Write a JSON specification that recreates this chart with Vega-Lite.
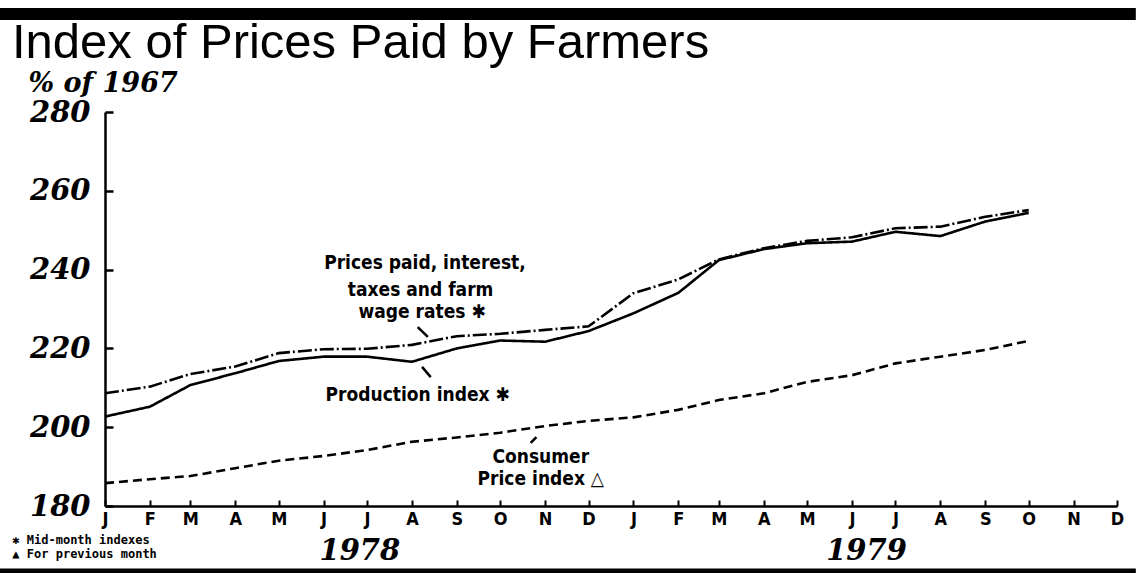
{
  "$schema": "https://vega.github.io/schema/vega-lite/v6.json",
  "width": 1012,
  "height": 394,
  "autosize": {"type": "none"},
  "padding": {"left": 105, "top": 112, "right": 19, "bottom": 67},
  "background": "white",
  "config": {"view": {"stroke": null}},
  "title": {
    "text": "Index of Prices Paid by Farmers",
    "anchor": "start",
    "frame": "group",
    "dx": -93,
    "dy": 99,
    "offset": 0,
    "baseline": "alphabetic",
    "font": "Liberation Sans",
    "fontSize": 49,
    "fontWeight": "normal",
    "color": "black"
  },
  "datasets": {
    "series": [
      {"series": "Prices paid", "date": "1978-01-01", "value": 208.6},
      {"series": "Prices paid", "date": "1978-02-01", "value": 210.3},
      {"series": "Prices paid", "date": "1978-03-01", "value": 213.5},
      {"series": "Prices paid", "date": "1978-04-01", "value": 215.4},
      {"series": "Prices paid", "date": "1978-05-01", "value": 218.8},
      {"series": "Prices paid", "date": "1978-06-01", "value": 219.8},
      {"series": "Prices paid", "date": "1978-07-01", "value": 219.9},
      {"series": "Prices paid", "date": "1978-08-01", "value": 220.9},
      {"series": "Prices paid", "date": "1978-09-01", "value": 223.1},
      {"series": "Prices paid", "date": "1978-10-01", "value": 223.7},
      {"series": "Prices paid", "date": "1978-11-01", "value": 224.7},
      {"series": "Prices paid", "date": "1978-12-01", "value": 225.6},
      {"series": "Prices paid", "date": "1979-01-01", "value": 234.0},
      {"series": "Prices paid", "date": "1979-02-01", "value": 237.5},
      {"series": "Prices paid", "date": "1979-03-01", "value": 242.6},
      {"series": "Prices paid", "date": "1979-04-01", "value": 245.4},
      {"series": "Prices paid", "date": "1979-05-01", "value": 247.3},
      {"series": "Prices paid", "date": "1979-06-01", "value": 248.2},
      {"series": "Prices paid", "date": "1979-07-01", "value": 250.5},
      {"series": "Prices paid", "date": "1979-08-01", "value": 250.9},
      {"series": "Prices paid", "date": "1979-09-01", "value": 253.4},
      {"series": "Prices paid", "date": "1979-10-01", "value": 255.1},
      {"series": "Production", "date": "1978-01-01", "value": 202.7},
      {"series": "Production", "date": "1978-02-01", "value": 205.2},
      {"series": "Production", "date": "1978-03-01", "value": 210.7},
      {"series": "Production", "date": "1978-04-01", "value": 213.7},
      {"series": "Production", "date": "1978-05-01", "value": 216.8},
      {"series": "Production", "date": "1978-06-01", "value": 217.9},
      {"series": "Production", "date": "1978-07-01", "value": 217.9},
      {"series": "Production", "date": "1978-08-01", "value": 216.6},
      {"series": "Production", "date": "1978-09-01", "value": 220.0},
      {"series": "Production", "date": "1978-10-01", "value": 222.0},
      {"series": "Production", "date": "1978-11-01", "value": 221.7},
      {"series": "Production", "date": "1978-12-01", "value": 224.4},
      {"series": "Production", "date": "1979-01-01", "value": 228.9},
      {"series": "Production", "date": "1979-02-01", "value": 234.1},
      {"series": "Production", "date": "1979-03-01", "value": 242.4},
      {"series": "Production", "date": "1979-04-01", "value": 245.2},
      {"series": "Production", "date": "1979-05-01", "value": 246.7},
      {"series": "Production", "date": "1979-06-01", "value": 247.1},
      {"series": "Production", "date": "1979-07-01", "value": 249.6},
      {"series": "Production", "date": "1979-08-01", "value": 248.5},
      {"series": "Production", "date": "1979-09-01", "value": 252.2},
      {"series": "Production", "date": "1979-10-01", "value": 254.4},
      {"series": "Consumer", "date": "1978-01-01", "value": 185.8},
      {"series": "Consumer", "date": "1978-02-01", "value": 186.8},
      {"series": "Consumer", "date": "1978-03-01", "value": 187.6},
      {"series": "Consumer", "date": "1978-04-01", "value": 189.6},
      {"series": "Consumer", "date": "1978-05-01", "value": 191.5},
      {"series": "Consumer", "date": "1978-06-01", "value": 192.7},
      {"series": "Consumer", "date": "1978-07-01", "value": 194.2},
      {"series": "Consumer", "date": "1978-08-01", "value": 196.3},
      {"series": "Consumer", "date": "1978-09-01", "value": 197.4},
      {"series": "Consumer", "date": "1978-10-01", "value": 198.6},
      {"series": "Consumer", "date": "1978-11-01", "value": 200.3},
      {"series": "Consumer", "date": "1978-12-01", "value": 201.6},
      {"series": "Consumer", "date": "1979-01-01", "value": 202.5},
      {"series": "Consumer", "date": "1979-02-01", "value": 204.4},
      {"series": "Consumer", "date": "1979-03-01", "value": 206.9},
      {"series": "Consumer", "date": "1979-04-01", "value": 208.6},
      {"series": "Consumer", "date": "1979-05-01", "value": 211.5},
      {"series": "Consumer", "date": "1979-06-01", "value": 213.2},
      {"series": "Consumer", "date": "1979-07-01", "value": 216.2},
      {"series": "Consumer", "date": "1979-08-01", "value": 217.9},
      {"series": "Consumer", "date": "1979-09-01", "value": 219.6},
      {"series": "Consumer", "date": "1979-10-01", "value": 221.9}
    ],
    "labels": [
      {"text": "Prices paid, interest,", "date": "1978-08-10", "value": 241.7},
      {"text": "taxes and farm", "date": "1978-08-07", "value": 234.8},
      {"text": "wage rates ✱", "date": "1978-08-08", "value": 229.2},
      {"text": "Production index ✱", "date": "1978-08-05", "value": 208.2},
      {"text": "Consumer", "date": "1978-10-29", "value": 192.4},
      {"text": "Price index △", "date": "1978-10-29", "value": 186.9}
    ],
    "pointers": [
      {"date": "1978-08-05", "value": 225.4, "date2": "1978-08-12", "value2": 222.9},
      {"date": "1978-08-08", "value": 215.3, "date2": "1978-08-14", "value2": 212.7},
      {"date": "1978-10-26", "value": 197.5, "date2": "1978-10-22", "value2": 196.0}
    ],
    "years": [
      {"text": "1978", "date": "1978-06-26", "value": 168.6},
      {"text": "1979", "date": "1979-06-11", "value": 168.6}
    ],
    "notes": [
      {"text": "✱ Mid-month indexes", "date": "1977-10-29", "value": 171.4},
      {"text": "▲ For previous month", "date": "1977-10-29", "value": 167.8}
    ],
    "bars": [
      {"edge": "top", "date": "1977-10-20", "date2": "1979-12-14", "value": 304.9},
      {"edge": "bottom", "date": "1977-10-20", "date2": "1979-12-14", "value": 163.5}
    ]
  },
  "layer": [
    {
      "data": {"name": "series"},
      "mark": {"type": "line", "color": "black", "strokeWidth": 2.6},
      "encoding": {
        "x": {
          "field": "date",
          "type": "temporal",
          "scale": {"type": "utc", "domain": [{"year": 1978, "month": 1, "date": 1, "utc": true}, {"year": 1979, "month": 12, "date": 1, "utc": true}], "nice": false},
          "axis": {
            "title": null,
            "grid": false,
            "tickCount": {"interval": "month", "step": 1},
            "labelExpr": "slice(utcFormat(datum.value, '%b'), 0, 1)",
            "domainColor": "black",
            "domainWidth": 2.5,
            "tickColor": "black",
            "tickWidth": 2,
            "tickSize": -6,
            "labelPadding": 10,
            "labelFont": "Liberation Sans Narrow, DejaVu Sans Condensed, sans-serif",
            "labelFontSize": 18,
            "labelFontWeight": "bold",
            "labelColor": "black",
            "labelFlush": false,
            "labelOverlap": false
          }
        },
        "y": {
          "field": "value",
          "type": "quantitative",
          "scale": {"domain": [180, 280], "zero": false, "nice": false},
          "axis": {
            "title": "% of 1967",
            "titleAngle": 0,
            "titleX": -77,
            "titleY": -21,
            "titleAlign": "left",
            "titleBaseline": "alphabetic",
            "titleFont": "DejaVu Serif",
            "titleFontStyle": "italic",
            "titleFontWeight": "bold",
            "titleFontSize": 27,
            "titleColor": "black",
            "values": [180, 200, 220, 240, 260, 280],
            "grid": false,
            "domainColor": "black",
            "domainWidth": 2.5,
            "tickColor": "black",
            "tickWidth": 2.5,
            "tickSize": -8,
            "labelPadding": 23,
            "labelFont": "DejaVu Serif",
            "labelFontStyle": "italic",
            "labelFontWeight": "bold",
            "labelFontSize": 29,
            "labelColor": "black"
          }
        },
        "strokeDash": {
          "field": "series",
          "type": "nominal",
          "scale": {"domain": ["Prices paid", "Production", "Consumer"], "range": [[14, 3, 2, 3], [1, 0], [9, 5]]},
          "legend": null
        }
      }
    },
    {
      "data": {"name": "labels"},
      "mark": {"type": "text", "align": "center", "baseline": "middle", "font": "Liberation Sans Narrow, DejaVu Sans Condensed, sans-serif", "fontSize": 19, "fontWeight": "bold", "color": "black"},
      "encoding": {
        "x": {"field": "date", "type": "temporal"},
        "y": {"field": "value", "type": "quantitative"},
        "text": {"field": "text"}
      }
    },
    {
      "data": {"name": "pointers"},
      "mark": {"type": "rule", "color": "black", "strokeWidth": 2.5},
      "encoding": {
        "x": {"field": "date", "type": "temporal"},
        "x2": {"field": "date2"},
        "y": {"field": "value", "type": "quantitative"},
        "y2": {"field": "value2"}
      }
    },
    {
      "data": {"name": "years"},
      "mark": {"type": "text", "align": "center", "baseline": "middle", "font": "DejaVu Serif", "fontStyle": "italic", "fontWeight": "bold", "fontSize": 29, "color": "black"},
      "encoding": {
        "x": {"field": "date", "type": "temporal"},
        "y": {"field": "value", "type": "quantitative"},
        "text": {"field": "text"}
      }
    },
    {
      "data": {"name": "notes"},
      "mark": {"type": "text", "align": "left", "baseline": "middle", "font": "DejaVu Sans Mono", "fontWeight": "bold", "fontSize": 12, "color": "black"},
      "encoding": {
        "x": {"field": "date", "type": "temporal"},
        "y": {"field": "value", "type": "quantitative"},
        "text": {"field": "text"}
      }
    },
    {
      "data": {"name": "bars"},
      "mark": {"type": "rule", "color": "black"},
      "encoding": {
        "x": {"field": "date", "type": "temporal"},
        "x2": {"field": "date2"},
        "y": {"field": "value", "type": "quantitative"},
        "strokeWidth": {"field": "edge", "type": "nominal", "scale": {"domain": ["top", "bottom"], "range": [12, 5]}, "legend": null}
      }
    }
  ]
}
